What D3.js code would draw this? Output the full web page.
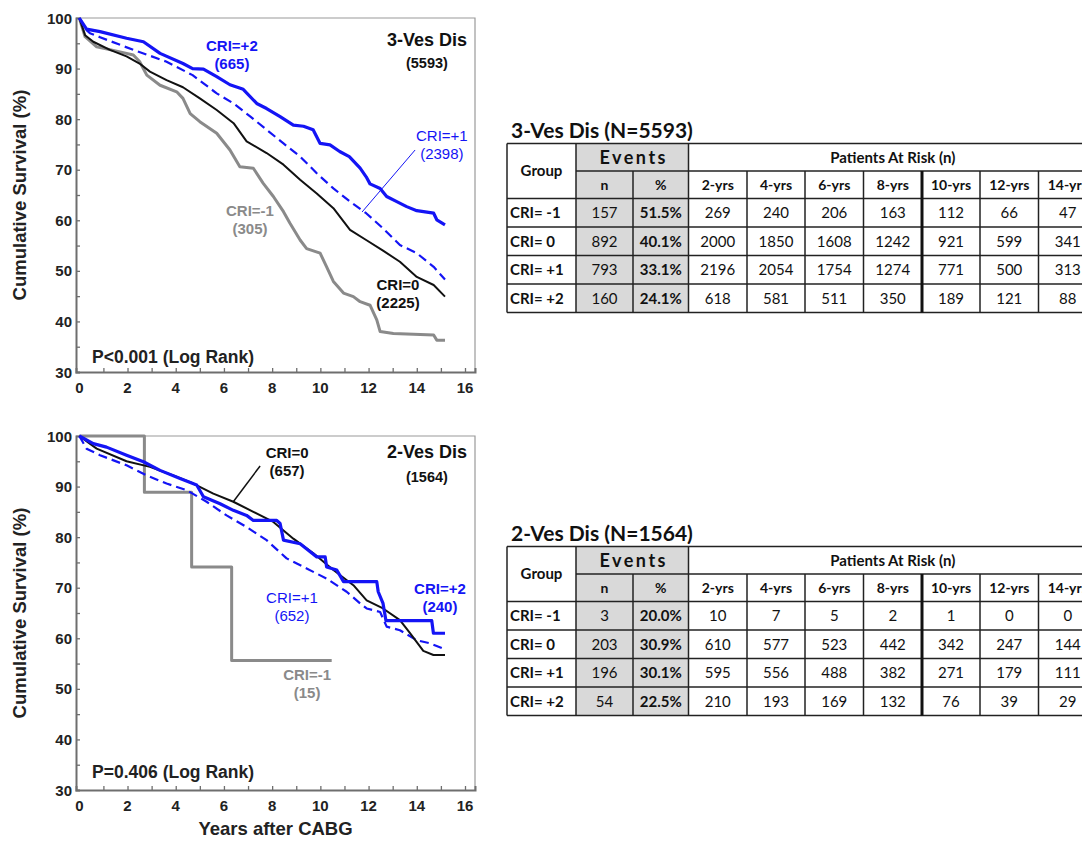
<!DOCTYPE html>
<html>
<head>
<meta charset="utf-8">
<script src="https://cdn.jsdelivr.net/npm/d3@7"></script>
<style>
  body { margin: 0; background: #fff; }
  svg { display: block; }
</style>
</head>
<body>
<svg id="fig" width="1082" height="841"></svg>
<script>
/**
 * Data: survival (%) by years after CABG.
 */
const ves3Neg1 = [[0,100],[0.24,96.3],[0.72,94.3],[1.69,93.3],[2.24,92.7],[2.5,91.4],[2.8,88.7],[3.35,86.7],[4.04,85.4],[4.3,84.1],[4.6,81.1],[5.0,79.5],[5.7,77.2],[6.25,73.9],[6.66,70.6],[7.22,70.3],[7.63,67.3],[8.05,64.7],[8.47,61.7],[8.74,59.4],[9.16,56.1],[9.43,54.4],[9.99,53.5],[10.26,50.8],[10.54,47.9],[10.96,45.6],[11.37,44.9],[11.65,43.9],[12.06,43.2],[12.34,40.3],[12.48,38.0],[13.03,37.6],[14.7,37.3],[14.83,36.3],[15.17,36.3]];
const ves3Zero = [[0,100],[0.24,96.6],[0.58,95.3],[1.27,93.7],[1.96,92.4],[2.5,91.0],[2.93,89.4],[3.62,87.7],[4.3,86.3],[5.0,84.1],[5.7,81.8],[6.4,79.2],[6.94,75.6],[7.77,73.3],[8.47,71.0],[9.16,68.0],[9.85,65.3],[10.54,62.4],[11.23,58.1],[11.9,56.1],[12.6,54.0],[13.3,51.8],[14.0,48.8],[14.7,47.2],[15.17,44.9]];
const ves3Pos1 = [[0,100],[0.3,97.6],[0.44,97.0],[0.86,96.2],[2.24,93.7],[3.6,91.4],[4.7,88.7],[5.7,85.1],[6.4,83.1],[7.1,80.5],[7.77,77.9],[8.47,75.2],[9.16,72.6],[9.85,69.3],[10.54,66.3],[11.23,63.7],[11.9,61.4],[12.6,58.4],[13.3,55.1],[14.0,53.5],[14.7,50.8],[15.17,48.3]];
const ves3Pos2 = [[0,100],[0.3,97.8],[0.86,97.3],[1.96,96.0],[2.66,95.3],[3.35,93.0],[4.3,91.0],[4.7,90.0],[5.15,89.9],[5.7,88.4],[6.25,86.8],[6.8,85.9],[7.36,83.1],[7.77,82.1],[8.33,80.5],[8.88,78.8],[9.3,78.6],[9.7,77.9],[9.99,75.2],[10.4,74.9],[10.8,73.6],[11.2,72.6],[11.65,70.3],[11.9,68.6],[12.06,67.2],[12.48,66.3],[12.75,64.7],[13.17,63.7],[13.58,62.7],[14.0,61.9],[14.7,61.4],[14.83,60.1],[15.17,59.1]];

const ves2Neg1 = [[0,100],[2.7,88.9],[4.66,74.1],[6.32,55.6],[10.47,55.6]];
const ves2Zero = [[0,100],[0.72,97.5],[1.96,95.0],[2.93,93.9],[3.9,92.2],[4.73,90.6],[5.56,88.6],[6.39,87.0],[7.22,85.0],[8.05,83.0],[8.88,79.7],[9.71,76.8],[10.54,73.5],[11.37,70.5],[11.92,67.5],[12.6,65.9],[13.3,63.6],[13.72,61.0],[14.27,57.5],[14.69,56.7],[15.17,56.7]];
const ves2Pos1 = [[0,100],[0.3,97.5],[0.86,96.2],[1.96,94.2],[2.8,92.2],[3.62,90.6],[4.45,89.3],[5.28,87.0],[6.11,84.3],[6.94,82.0],[7.77,79.4],[8.6,75.8],[9.43,73.8],[10.26,71.8],[11.09,69.2],[11.65,66.9],[11.92,65.9],[12.48,65.2],[12.75,62.3],[13.3,61.6],[14.0,59.6],[14.55,59.0],[15.17,57.8]];
const ves2Pos2 = [[0,100],[0.58,98.5],[1.13,97.8],[1.96,96.2],[2.66,94.9],[3.35,93.2],[4.18,91.6],[4.87,90.3],[5.15,88.0],[5.84,86.6],[6.39,85.3],[6.94,84.3],[7.22,83.3],[8.19,83.3],[8.33,82.7],[8.47,79.4],[9.16,78.7],[9.5,77.4],[9.85,76.1],[10.2,76.1],[10.26,74.1],[10.68,73.5],[10.96,71.2],[12.34,71.2],[12.4,69.2],[12.6,66.9],[12.72,63.5],[14.62,63.5],[14.69,61.0],[15.17,61.0]];

/**
 * Table data.
 */
const groups = ['CRI= -1', 'CRI= 0', 'CRI= +1', 'CRI= +2'];
const riskYears = ['2-yrs', '4-yrs', '6-yrs', '8-yrs', '10-yrs', '12-yrs', '14-yrs'];
const ves3EventsN = [157, 892, 793, 160];
const ves3EventsPct = ['51.5%', '40.1%', '33.1%', '24.1%'];
const ves3AtRisk = [
    [269, 240, 206, 163, 112, 66, 47],
    [2000, 1850, 1608, 1242, 921, 599, 341],
    [2196, 2054, 1754, 1274, 771, 500, 313],
    [618, 581, 511, 350, 189, 121, 88]
];
const ves2EventsN = [3, 203, 196, 54];
const ves2EventsPct = ['20.0%', '30.9%', '30.1%', '22.5%'];
const ves2AtRisk = [
    [10, 7, 5, 2, 1, 0, 0],
    [610, 577, 523, 442, 342, 247, 144],
    [595, 556, 488, 382, 271, 179, 111],
    [210, 193, 169, 132, 76, 39, 29]
];

/**
 * Visual configs.
 */
const blue = '#1414f5', gray = '#8a8a8a', black = '#111';
const styles = {
    neg1: { color: gray, width: 3, dash: null },
    zero: { color: black, width: 2, dash: null },
    pos1: { color: blue, width: 2.2, dash: '9,5' },
    pos2: { color: blue, width: 3.2, dash: null }
};
const chartFont = '"Liberation Sans", Arial, sans-serif';
const tableFont = 'Lato, "Noto Sans", sans-serif';

const svg = d3.select('#fig');

const xScale = d3.scaleLinear().domain([-0.137, 16.415]).range([76, 475]);

function drawChart(top, bottom, series, labels, pText, leader) {
    const yScale = d3.scaleLinear().domain([30, 100]).range([bottom, top]);
    const g = svg.append('g').attr('font-family', chartFont);

    // Frame (thin top/right)
    g.append('path')
        .attr('d', 'M' + xScale.range()[0] + ',' + top + 'H' + xScale.range()[1] + 'V' + bottom)
        .attr('fill', 'none').attr('stroke', '#9a9a9a').attr('stroke-width', 1.2);

    // Axes with inward ticks
    const xAxis = d3.axisBottom(xScale).tickValues(d3.range(0, 17, 1)).tickSize(-4).tickFormat(() => '');
    const xg = g.append('g').attr('transform', 'translate(0,' + bottom + ')').call(xAxis);
    const yAxis = d3.axisLeft(yScale).tickValues(d3.range(30, 101, 5)).tickSize(-4).tickFormat(() => '');
    const yg = g.append('g').attr('transform', 'translate(' + xScale.range()[0] + ',0)').call(yAxis);
    [xg, yg].forEach(a => {
        a.select('.domain').attr('stroke', '#6e6e6e').attr('stroke-width', 2);
        a.selectAll('.tick line').attr('stroke', '#6e6e6e').attr('stroke-width', 1.3);
    });
    xg.selectAll('.tick').filter(d => d === 0).select('line').remove();
    yg.selectAll('.tick').filter(d => d === 30 || d === 100).select('line').remove();

    // Tick labels
    g.selectAll('.xl').data(d3.range(0, 17, 2)).enter().append('text')
        .attr('x', d => xScale(d)).attr('y', bottom + 21)
        .attr('text-anchor', 'middle').attr('font-size', 15).attr('font-weight', 'bold').attr('fill', '#222')
        .text(d => d);
    g.selectAll('.yl').data(d3.range(30, 101, 10)).enter().append('text')
        .attr('x', 72).attr('y', d => yScale(d) + 5.5)
        .attr('text-anchor', 'end').attr('font-size', 15).attr('font-weight', 'bold').attr('fill', '#222')
        .text(d => d);

    // Y title
    g.append('text')
        .attr('transform', 'translate(26,' + (top + bottom) / 2 + ') rotate(-90)')
        .attr('text-anchor', 'middle').attr('font-size', 18.5).attr('font-weight', 'bold').attr('fill', '#222')
        .text('Cumulative Survival (%)');

    // Curves
    series.forEach(s => {
        const st = styles[s.key];
        g.append('path')
            .datum(s.data)
            .attr('fill', 'none')
            .attr('stroke', st.color)
            .attr('stroke-width', st.width)
            .attr('stroke-dasharray', st.dash)
            .attr('stroke-linejoin', 'round')
            .attr('d', d3.line().x(d => xScale(d[0])).y(d => yScale(d[1])).curve(s.curve || d3.curveLinear));
    });

    // Leader line
    g.append('line')
        .attr('x1', xScale(leader.from[0])).attr('y1', yScale(leader.from[1]))
        .attr('x2', xScale(leader.to[0])).attr('y2', yScale(leader.to[1]))
        .attr('stroke', leader.color).attr('stroke-width', leader.width);

    // Labels
    labels.forEach(l => {
        const t = g.append('text')
            .attr('x', xScale(l.at[0])).attr('y', yScale(l.at[1]) + 5)
            .attr('text-anchor', 'middle').attr('fill', l.color)
            .attr('font-weight', l.bold ? 'bold' : 'normal');
        t.append('tspan').attr('font-size', l.size || 15).text(l.lines[0]);
        t.append('tspan').attr('x', xScale(l.at[0])).attr('dy', l.gap || 18)
            .attr('font-size', l.size2 || 15).text(l.lines[1]);
    });

    g.append('text')
        .attr('x', xScale(pText.at[0])).attr('y', yScale(pText.at[1]) + 6)
        .attr('font-size', 17.5).attr('font-weight', 'bold').attr('fill', '#222')
        .text(pText.text);

    return g;
}

drawChart(18, 372,
    [
        { key: 'neg1', data: ves3Neg1 },
        { key: 'zero', data: ves3Zero },
        { key: 'pos1', data: ves3Pos1 },
        { key: 'pos2', data: ves3Pos2 }
    ],
    [
        { lines: ['CRI=+2', '(665)'], at: [6.33, 94.46], color: blue, bold: true },
        { lines: ['3-Ves Dis', '(5593)'], at: [14.42, 95.45], color: '#111', bold: true, size: 18, size2: 14.5, gap: 22 },
        { lines: ['CRI=+1', '(2398)'], at: [15.04, 76.67], color: blue, bold: false },
        { lines: ['CRI=-1', '(305)'], at: [7.08, 61.84], color: gray, bold: true },
        { lines: ['CRI=0', '(2225)'], at: [13.22, 47.2], color: '#111', bold: true }
    ],
    { text: 'P<0.001 (Log Rank)', at: [0.53, 32.97] },
    { from: [13.93, 73.9], to: [11.73, 61.64], color: blue, width: 1 }
);

drawChart(436, 790,
    [
        { key: 'neg1', data: ves2Neg1, curve: d3.curveStepAfter },
        { key: 'pos1', data: ves2Pos1 },
        { key: 'zero', data: ves2Zero },
        { key: 'pos2', data: ves2Pos2 }
    ],
    [
        { lines: ['CRI=0', '(657)'], at: [8.62, 96.64], color: '#111', bold: true },
        { lines: ['2-Ves Dis', '(1564)'], at: [14.42, 96.64], color: '#111', bold: true, size: 18, size2: 14.5, gap: 24 },
        { lines: ['CRI=+1', '(652)'], at: [8.82, 67.97], color: blue, bold: false },
        { lines: ['CRI=+2', '(240)'], at: [14.96, 69.75], color: blue, bold: true },
        { lines: ['CRI=-1', '(15)'], at: [9.45, 52.74], color: gray, bold: true }
    ],
    { text: 'P=0.406 (Log Rank)', at: [0.53, 33.6] },
    { from: [7.5, 94.07], to: [6.38, 86.95], color: '#111', width: 1.5 }
);

svg.append('text')
    .attr('x', 275.5).attr('y', 835)
    .attr('text-anchor', 'middle').attr('font-family', chartFont)
    .attr('font-size', 18.5).attr('font-weight', 'bold').attr('fill', '#222')
    .text('Years after CABG');

/**
 * Tables.
 */
const colEdges = [507, 576, 633, 688.5, 747, 805, 863.5, 922, 980, 1038.5, 1097];
const rowHeights = [27.5, 27.5, 28.5, 28.5, 28.5, 28.5];

function drawTable(top, title, eventsN, eventsPct, atRisk) {
    const g = svg.append('g').attr('font-family', tableFont).attr('fill', '#111');
    const rowEdges = [top];
    rowHeights.forEach(h => rowEdges.push(rowEdges[rowEdges.length - 1] + h));
    const cx = i => (colEdges[i] + colEdges[i + 1]) / 2;
    const cy = r => (rowEdges[r] + rowEdges[r + 1]) / 2;
    const bottom = rowEdges[rowEdges.length - 1];

    g.append('text').attr('x', 511).attr('y', top - 6)
        .attr('font-size', 21).attr('font-weight', 'bold').text(title);

    // Gray events cells
    g.append('rect')
        .attr('x', colEdges[1]).attr('y', top)
        .attr('width', colEdges[3] - colEdges[1]).attr('height', bottom - top)
        .attr('fill', '#d9d9d9');

    // Grid
    const lines = [];
    lines.push([colEdges[0], top, colEdges[10], top]);
    lines.push([colEdges[1], rowEdges[1], colEdges[10], rowEdges[1]]);
    for (let r = 2; r < rowEdges.length; r++) lines.push([colEdges[0], rowEdges[r], colEdges[10], rowEdges[r]]);
    [0, 1, 3].forEach(c => lines.push([colEdges[c], top, colEdges[c], bottom]));
    [2, 4, 5, 6, 8, 9].forEach(c => lines.push([colEdges[c], rowEdges[1], colEdges[c], bottom]));
    g.selectAll('.grid').data(lines).enter().append('line')
        .attr('x1', d => d[0]).attr('y1', d => d[1]).attr('x2', d => d[2]).attr('y2', d => d[3])
        .attr('stroke', '#222').attr('stroke-width', 1.5);
    g.append('line')
        .attr('x1', colEdges[7]).attr('y1', rowEdges[1]).attr('x2', colEdges[7]).attr('y2', bottom)
        .attr('stroke', '#111').attr('stroke-width', 3);

    const cell = (x, y, txt, size, bold, anchor) => g.append('text')
        .attr('x', x).attr('y', y + size * 0.36)
        .attr('text-anchor', anchor || 'middle')
        .attr('font-size', size).attr('font-weight', bold ? 'bold' : 'normal')
        .text(txt);

    // Headers
    cell(cx(0), (rowEdges[0] + rowEdges[2]) / 2, 'Group', 15, true);
    cell((colEdges[1] + colEdges[3]) / 2 + 1.5, cy(0), 'Events', 18, true).attr('letter-spacing', 2.5);
    cell((colEdges[3] + colEdges[10]) / 2, cy(0), 'Patients At Risk (n)', 15, true);
    cell(cx(1), cy(1), 'n', 14, true);
    cell(cx(2), cy(1), '%', 14, true);
    riskYears.forEach((y, i) => cell(cx(3 + i), cy(1), y, 14, true));

    // Body
    groups.forEach((grp, r) => {
        cell(colEdges[0] + 3, cy(2 + r), grp, 15, true, 'start');
        cell(cx(1), cy(2 + r), eventsN[r], 15, false);
        cell(cx(2), cy(2 + r), eventsPct[r], 15, true);
        atRisk[r].forEach((v, i) => cell(cx(3 + i), cy(2 + r), v, 15, false));
    });
}

drawTable(143.5, '3-Ves Dis (N=5593)', ves3EventsN, ves3EventsPct, ves3AtRisk);
drawTable(546.5, '2-Ves Dis (N=1564)', ves2EventsN, ves2EventsPct, ves2AtRisk);
</script>
</body>
</html>
